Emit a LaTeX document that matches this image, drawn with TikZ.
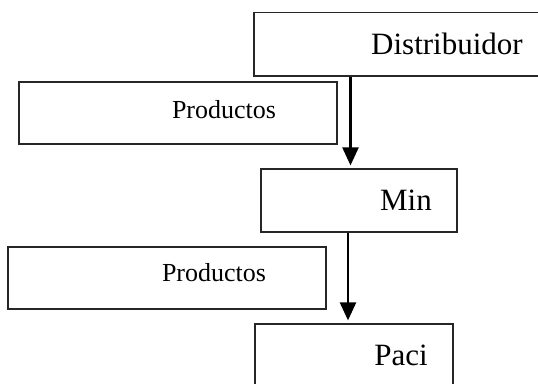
\documentclass[tikz,border=0pt]{standalone}
\usepackage{fontspec}
\setmainfont{Liberation Serif}
\usetikzlibrary{arrows.meta}
\begin{document}
\begin{tikzpicture}[x=1pt,y=-1pt,
  box/.style={draw=black!85, line width=1.2pt, rectangle, inner sep=0pt},
  big/.style={font=\fontsize{31}{31}\selectfont, inner sep=0pt},
  small/.style={font=\fontsize{26}{26}\selectfont, inner sep=0pt},
  flow/.style={line width=2.4pt, -{Triangle[width=16pt,length=18pt]}, shorten >=3pt}]
\useasboundingbox (0,0) rectangle (538,383);
\clip (0,0) rectangle (538,383);

% boxes
\node[box, minimum width=306pt, minimum height=63.5pt] (dist) at (407,44.25) {};
\node[box, minimum width=318pt, minimum height=62pt] (prodA) at (178,113) {};
\node[box, minimum width=196pt, minimum height=63pt] (min) at (359,200.5) {};
\node[box, minimum width=318pt, minimum height=62pt] (prodB) at (167,278) {};
\node[box, minimum width=198pt, minimum height=76pt] (paci) at (354,362) {};

% labels
\node[big] (distT) at (447,44) {Distribuidor};
\node[small] (prodAT) at (224,110) {Productos};
\node[big] (minT) at (406,200) {Min};
\node[small] (prodBT) at (214,273) {Productos};
\node[big] (paciT) at (401,355) {Paci};

% flow arrows
\coordinate (ca) at (350.5,0);
\coordinate (cb) at (348,0);
\draw[flow] (ca |- dist.south) -- (ca |- min.north);
\draw[flow] (cb |- min.south) -- (cb |- paci.north);
\end{tikzpicture}
\end{document}
